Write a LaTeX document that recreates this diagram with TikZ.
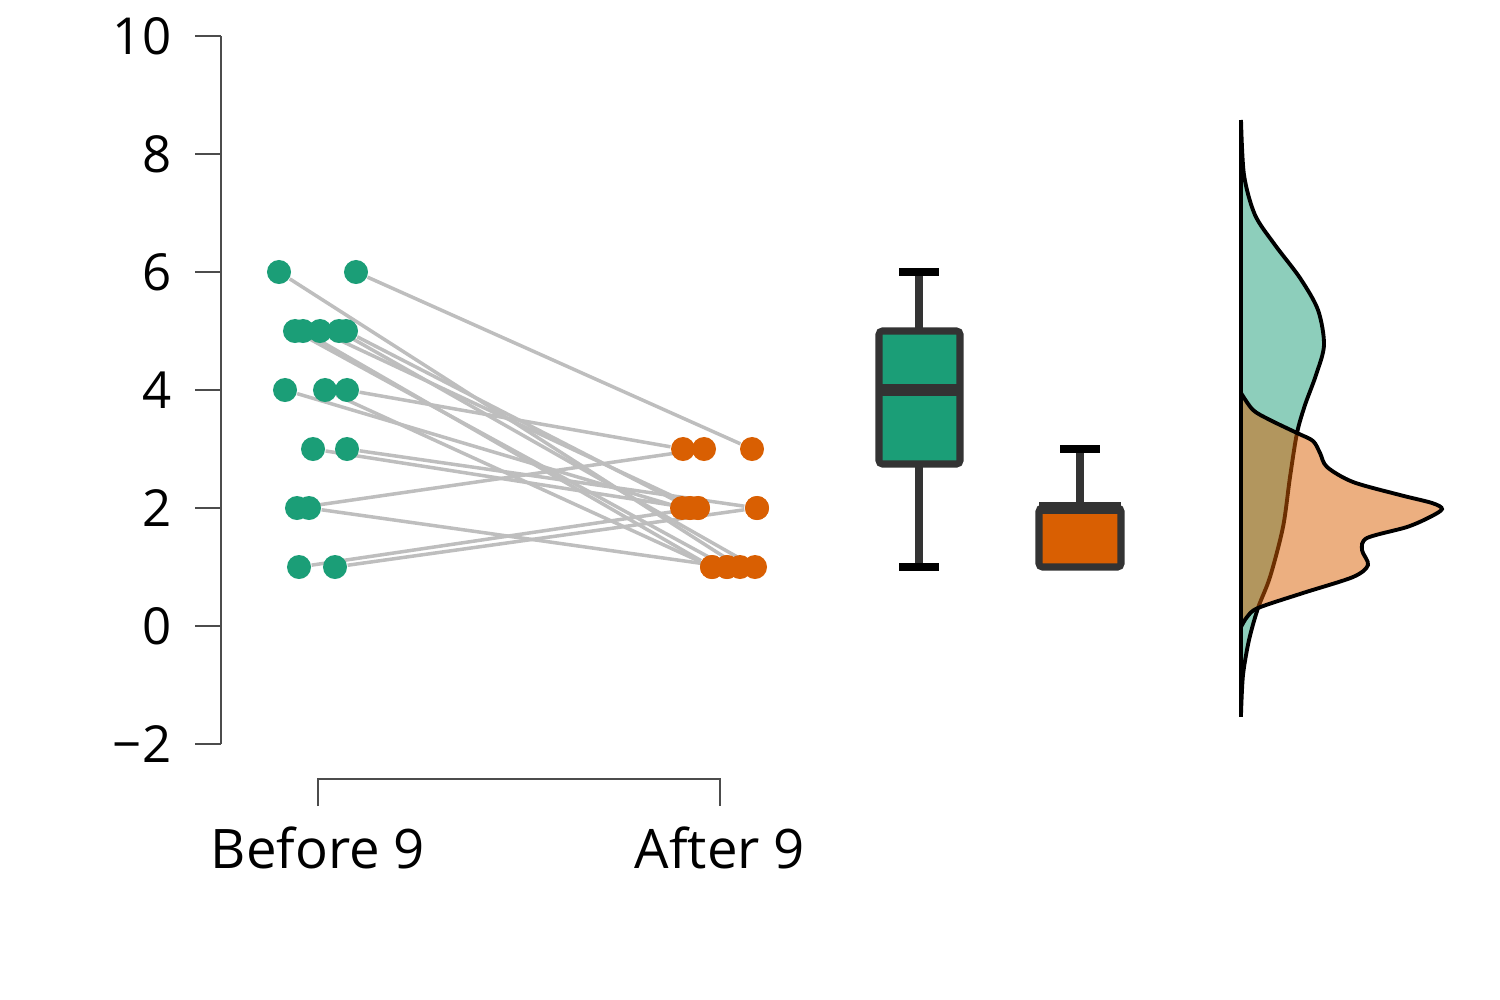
\documentclass[tikz,border=0pt]{standalone}
\usepackage{fontspec}
\setmainfont{Open Sans}
\usepackage{tikz}
\usetikzlibrary{positioning}
\usetikzlibrary{backgrounds}

\definecolor{beforegreen}{HTML}{1B9E77}
\definecolor{afterorange}{HTML}{D95F02}
\definecolor{pairgray}{HTML}{BEBEBE}
\definecolor{boxedge}{HTML}{333333}

\begin{document}
\begin{tikzpicture}[x=0.01cm, y=-0.01cm, % one unit = one pixel, y runs down
        pointdot/.style={circle, inner sep=0pt, minimum size=0.24cm},
        beforedot/.style={pointdot, fill=beforegreen},
        afterdot/.style={pointdot, fill=afterorange},
        pairline/.style={draw=pairgray, line width=1pt},
        axisline/.style={draw=black!70, line width=0.45pt},
        ticklabel/.style={font=\fontsize{14.5}{17}\selectfont, anchor=east, inner sep=0pt},
        grouplabel/.style={font=\fontsize{15.5}{18}\selectfont, anchor=base, inner sep=0pt},
        boxbody/.style={draw=boxedge, line width=2pt, rounded corners=1pt},
        whisker/.style={draw=boxedge, line width=2pt},
        whiskercap/.style={draw=black, line width=2pt},
        densityline/.style={draw=black, line width=1.1pt}]

    \useasboundingbox (0,0) rectangle (1500,1000);

    % Y axis
    \draw[axisline] (221,36) -- (221,744);
    \foreach \v/\txt in {10/10, 8/8, 6/6, 4/4, 2/2, 0/0, -2/−2} {
        \coordinate (ytick\v) at (195,{626-59*\v});
        \draw[axisline] (ytick\v) -- ++(26,0);
        \node[ticklabel] (ylab\v) at (172,{626-59*\v}) {\txt};
    }

    % X axis
    \coordinate (xtick1) at (318,806);
    \coordinate (xtick2) at (720,806);
    \draw[axisline] (xtick1) -- (318,779) -- (720,779) -- (xtick2);
    \node[grouplabel] (beforelab) at (318,868) {Before 9};
    \node[grouplabel] (afterlab) at (720,868) {After 9};

    % Before 9 points
    \node[beforedot] (b1) at (279,272) {};
    \node[beforedot] (b2) at (356,272) {};
    \node[beforedot] (b3) at (295,331) {};
    \node[beforedot] (b4) at (303,331) {};
    \node[beforedot] (b5) at (320,331) {};
    \node[beforedot] (b6) at (339,331) {};
    \node[beforedot] (b7) at (346,331) {};
    \node[beforedot] (b8) at (285,390) {};
    \node[beforedot] (b9) at (325,390) {};
    \node[beforedot] (b10) at (347,390) {};
    \node[beforedot] (b11) at (313,449) {};
    \node[beforedot] (b12) at (347,449) {};
    \node[beforedot] (b13) at (297,508) {};
    \node[beforedot] (b14) at (309,508) {};
    \node[beforedot] (b15) at (299,567) {};
    \node[beforedot] (b16) at (335,567) {};

    % After 9 points
    \node[afterdot] (a1) at (740,567) {};
    \node[afterdot] (a2) at (752,449) {};
    \node[afterdot] (a3) at (727,567) {};
    \node[afterdot] (a4) at (712,567) {};
    \node[afterdot] (a5) at (698,508) {};
    \node[afterdot] (a6) at (755,567) {};
    \node[afterdot] (a7) at (690,508) {};
    \node[afterdot] (a8) at (682,508) {};
    \node[afterdot] (a9) at (712,567) {};
    \node[afterdot] (a10) at (683,449) {};
    \node[afterdot] (a11) at (690,508) {};
    \node[afterdot] (a12) at (757,508) {};
    \node[afterdot] (a13) at (704,449) {};
    \node[afterdot] (a14) at (727,567) {};
    \node[afterdot] (a15) at (698,508) {};
    \node[afterdot] (a16) at (757,508) {};

    % Pairs (under the points)
    \begin{pgfonlayer}{background}
        \foreach \i in {1,...,16}
            \draw[pairline] (b\i) -- (a\i);
    \end{pgfonlayer}

    % Box plot, Before 9
    \draw[whisker] (919,331) -- (919,272);
    \draw[whisker] (919,464) -- (919,567);
    \draw[whiskercap] (899,272) -- (939,272);
    \draw[whiskercap] (899,567) -- (939,567);
    \draw[boxbody, fill=beforegreen] (879,331) rectangle (960,464);
    \draw[boxedge, line width=3.4pt] (879,390) -- (960,390);

    % Box plot, After 9
    \draw[whisker] (1080,508) -- (1080,449);
    \draw[whiskercap] (1060,449) -- (1100,449);
    \draw[boxbody, fill=afterorange] (1039,508) rectangle (1121,567);
    \draw[boxedge, line width=3.4pt] (1039,508) -- (1121,508);

    % Densities
    \fill[beforegreen, opacity=0.5] plot[smooth] coordinates {(1241,120) (1244,175) (1255,215) (1275,245) (1300,278) (1318,310) (1324,345) (1316,375) (1305,405) (1297,433) (1290,477) (1283,527) (1270,577) (1258,608) (1249,640) (1243,675) (1241,714)} -- cycle;
    \draw[densityline] plot[smooth] coordinates {(1241,120) (1244,175) (1255,215) (1275,245) (1300,278) (1318,310) (1324,345) (1316,375) (1305,405) (1297,433) (1290,477) (1283,527) (1270,577) (1258,608) (1249,640) (1243,675) (1241,714)};
    \fill[afterorange, opacity=0.5] plot[smooth] coordinates {(1241,393) (1253,410) (1270,420) (1297,433) (1313,441) (1320,453) (1327,467) (1353,482) (1400,495) (1432,503) (1442,509) (1430,517) (1407,527) (1367,538) (1362,550) (1368,565) (1353,577) (1303,593) (1258,608) (1247,617) (1241,627)} -- cycle;
    \draw[densityline] plot[smooth] coordinates {(1241,393) (1253,410) (1270,420) (1297,433) (1313,441) (1320,453) (1327,467) (1353,482) (1400,495) (1432,503) (1442,509) (1430,517) (1407,527) (1367,538) (1362,550) (1368,565) (1353,577) (1303,593) (1258,608) (1247,617) (1241,627)};
    \draw[densityline] (1241,122) -- (1241,717);

\end{tikzpicture}
\end{document}
